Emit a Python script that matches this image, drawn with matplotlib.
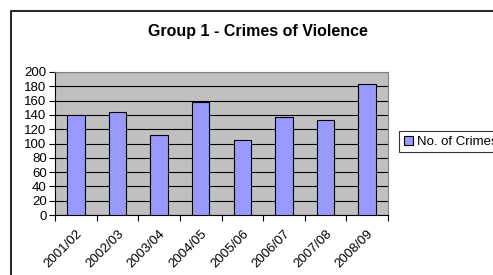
import numpy as np
import matplotlib.pyplot as plt
from matplotlib.patches import Rectangle
from matplotlib.transforms import ScaledTranslation

plt.rcParams['font.family'] = ['Liberation Sans', 'DejaVu Sans']

# data
years = ['2001/02', '2002/03', '2003/04', '2004/05',
         '2005/06', '2006/07', '2007/08', '2008/09']
crimes = [140, 144, 112, 158, 105, 137, 133, 183]

fig = plt.figure(figsize=(4.93, 2.75), dpi=100)

# outer chart border (runs off the right and bottom edges)
fig.patches.append(Rectangle((11 / 493, -0.1), 1.0, 1 - 11 / 275 + 0.1,
                             transform=fig.transFigure, fill=False,
                             edgecolor='black', linewidth=1.2, clip_on=False))

ax = fig.add_axes([55 / 493, 1 - 215 / 275, 333 / 493, 143 / 275])
ax.set_facecolor('#C0C0C0')

x = np.arange(len(years))
ax.bar(x, crimes, width=0.42, color='#9999FF', edgecolor='black',
       linewidth=0.8, zorder=3, label='No. of Crimes')

ax.set_xlim(-0.5, len(years) - 0.5)
ax.set_ylim(0, 200)
ax.set_yticks(np.arange(0, 201, 20))
ax.yaxis.grid(True, color='black', linewidth=0.8, zorder=1)
ax.set_axisbelow(True)

# ticks between categories, labels at centres
ax.set_xticks(np.arange(-0.5, len(years), 1.0))
ax.set_xticklabels([])
ax.set_xticks(x, minor=True)
labels = ax.set_xticklabels(years, minor=True, rotation=45, ha='right',
                            rotation_mode='anchor', fontsize=9.5)
shift = ScaledTranslation(-5 / 100, 0, fig.dpi_scale_trans)
for lab in labels:
    lab.set_transform(lab.get_transform() + shift)
ax.tick_params(axis='x', which='major', length=4, width=0.8, direction='out')
ax.tick_params(axis='x', which='minor', length=0, pad=9)
ax.tick_params(axis='y', length=4, width=0.8, labelsize=9.5, pad=2)

for s in ['top', 'right']:
    ax.spines[s].set_color('#808080')
for s in ['left', 'bottom']:
    ax.spines[s].set_color('black')

fig.text(258 / 493, 1 - 31 / 275, 'Group 1 - Crimes of Violence',
         ha='center', va='center', fontsize=11.5, fontweight='bold')

leg = fig.legend(loc='upper left', bbox_to_anchor=(399 / 493, 1 - 131 / 275),
                 fontsize=9.5, frameon=True, fancybox=False,
                 edgecolor='black', handlelength=0.7, handleheight=0.7,
                 handletextpad=0.3, borderpad=0.35, borderaxespad=0)
leg.get_frame().set_linewidth(0.8)

fig.savefig('out.png', dpi=100)
